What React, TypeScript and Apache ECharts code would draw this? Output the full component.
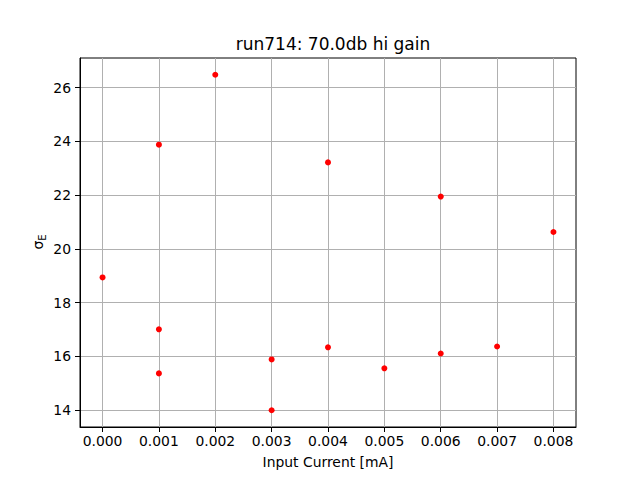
import React, { useEffect, useRef } from "react";
import * as echarts from "echarts";

const titleText = "run714: 70.0db hi gain";
const xLabel = "Input Current [mA]";
const yLabelMain = "σ";
const yLabelSub = "E";
const xValues = [0.0, 0.001, 0.001, 0.001, 0.002, 0.003, 0.003, 0.004, 0.004, 0.005, 0.006, 0.006, 0.007, 0.008];
const yValues = [18.94, 23.88, 17.01, 15.37, 26.48, 15.89, 14.0, 23.22, 16.34, 15.56, 21.95, 16.11, 16.37, 20.63];
const xTicks = [0.0, 0.001, 0.002, 0.003, 0.004, 0.005, 0.006, 0.007, 0.008];
const yTicks = [14, 16, 18, 20, 22, 24, 26];

const FONT = "DejaVu Sans";

export default function App() {
  const ref = useRef<HTMLDivElement>(null);
  useEffect(() => {
    const chart = echarts.init(ref.current!, null, { renderer: "svg" });
    const xs = xValues;
    const xMin = Math.min(...xs), xMax = Math.max(...xs);
    const yMin = Math.min(...yValues), yMax = Math.max(...yValues);
    const xPad = (xMax - xMin) * 0.05, yPad = (yMax - yMin) * 0.05;
    chart.setOption({
      animation: false,
      backgroundColor: "#ffffff",
      textStyle: { fontFamily: FONT },
      title: {
        text: titleText,
        left: 328,
        textAlign: "center",
        top: 30,
        textStyle: { fontFamily: FONT, fontSize: 17, fontWeight: "normal", color: "#000" },
      },
      graphic: [
        {
          type: "text",
          x: 38,
          y: 242,
          rotation: Math.PI / 2,
          style: {
            text: `{m|${yLabelMain}}{s|${yLabelSub}}`,
            align: "center",
            verticalAlign: "middle",
            rich: {
              m: { fontFamily: FONT, fontSize: 14, fill: "#000", color: "#000" },
              s: { fontFamily: FONT, fontSize: 10, fill: "#000", color: "#000", padding: [8, 0, 0, 0] },
            },
          },
        },
      ],
      grid: {
        left: 80, right: 64, top: 58, bottom: 53,
        show: true, borderColor: "#000", borderWidth: 1, backgroundColor: "transparent",
      },
      xAxis: {
        type: "value",
        min: xMin - xPad,
        max: xMax + xPad,
        name: xLabel,
        nameLocation: "middle",
        nameGap: 28,
        nameTextStyle: { fontFamily: FONT, fontSize: 13.9, color: "#000" },
        axisLine: { show: true, onZero: false, lineStyle: { color: "#000", width: 1 } },
        axisTick: { show: true, length: 5, lineStyle: { color: "#000" }, customValues: xTicks },
        axisLabel: {
          fontFamily: FONT, fontSize: 13.9, color: "#000", margin: 7,
          customValues: xTicks,
          formatter: (v: number) => v.toFixed(3),
        },
        splitLine: { show: true, lineStyle: { color: "#b0b0b0", width: 1 } },
      },
      yAxis: {
        type: "value",
        min: yMin - yPad,
        max: yMax + yPad,
        axisLine: { show: true, onZero: false, lineStyle: { color: "#000", width: 1 } },
        axisTick: { show: true, length: 5, lineStyle: { color: "#000" }, customValues: yTicks },
        axisLabel: {
          fontFamily: FONT, fontSize: 13.9, color: "#000", margin: 9,
          customValues: yTicks,
          formatter: (v: number) => String(Math.round(v)),
        },
        splitLine: { show: true, lineStyle: { color: "#b0b0b0", width: 1 } },
      },
      series: [
        {
          type: "scatter",
          data: xValues.map((x, i) => [x, yValues[i]]),
          symbol: "circle",
          symbolSize: 6,
          itemStyle: { color: "#ff0000", opacity: 1 },
        },
      ],
    });
    return () => chart.dispose();
  }, []);
  return <div ref={ref} style={{ width: 640, height: 480, position: "absolute", left: 0, top: 0 }} />;
}
